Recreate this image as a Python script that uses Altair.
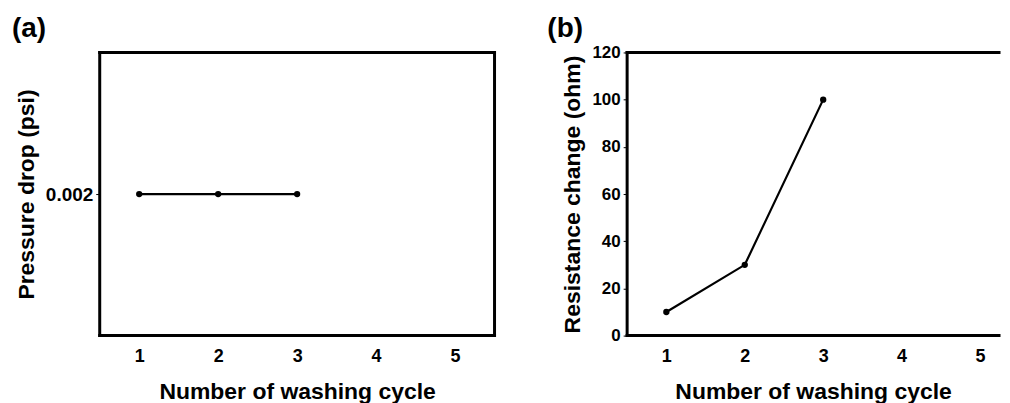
import altair as alt
import pandas as pd

cycles = [1, 2, 3]
pressure_drop = [0.002, 0.002, 0.002]
resistance_change = [10, 30, 100]
x_ticks = [1, 2, 3, 4, 5]

FONT = "Liberation Sans"
H = 284

df_a = pd.DataFrame({"cycle": cycles, "value": pressure_drop})
df_b = pd.DataFrame({"cycle": cycles, "value": resistance_change})
one = pd.DataFrame({"k": [0]})


def panel(df, xmax, width, ydomain, yvalues, yfmt, ylabsize, ytitle, label,
          label_dx, sides):
    base = alt.Chart(df)
    x_axis = alt.Axis(values=x_ticks, ticks=False, domain=False, grid=False,
                      labelFontSize=18, labelFontWeight="bold", labelFont=FONT,
                      labelColor="black", labelPadding=12, labelAngle=0,
                      titleFontSize=23, titleFontWeight="bold", titleFont=FONT,
                      titleColor="black", titlePadding=15)
    x = alt.X("cycle:Q", scale=alt.Scale(domain=[0.5, xmax], nice=False),
              axis=x_axis, title="Number of washing cycle")
    y = alt.Y("value:Q", scale=alt.Scale(domain=ydomain, nice=False, zero=False),
              axis=alt.Axis(values=yvalues, format=yfmt, domain=False, grid=False,
                            tickSize=4, tickWidth=1, tickColor="black",
                            labelFontSize=ylabsize, labelFontWeight="bold",
                            labelFont=FONT, labelColor="black", labelPadding=3,
                            titleFontSize=23, titleFontWeight="bold", titleFont=FONT,
                            titleColor="black", titlePadding=7),
              title=ytitle)
    line = base.mark_line(color="black", strokeWidth=2.2).encode(x=x, y=y)
    pts = base.mark_point(filled=True, color="black", size=40, opacity=1).encode(x=x, y=y)
    lab = alt.Chart(pd.DataFrame({"t": [label]})).mark_text(
        font=FONT, fontSize=28, fontWeight="bold", align="left",
        baseline="alphabetic", color="black"
    ).encode(text="t:N", x=alt.value(label_dx), y=alt.value(-16))
    frame = []
    rule = alt.Chart(one).mark_rule(color="black", strokeWidth=3, strokeCap="square")
    if "top" in sides:
        frame.append(rule.encode(x=alt.value(0), x2=alt.value(width), y=alt.value(0)))
    if "bottom" in sides:
        frame.append(rule.encode(x=alt.value(0), x2=alt.value(width), y=alt.value(H)))
    if "left" in sides:
        frame.append(rule.encode(x=alt.value(0), y=alt.value(0), y2=alt.value(H)))
    if "right" in sides:
        frame.append(rule.encode(x=alt.value(width), y=alt.value(0), y2=alt.value(H)))
    return alt.layer(line, pts, *frame, lab).properties(width=width, height=H)


a = panel(df_a, 5.5, 396, [0.001, 0.003], [0.002], ".3f", 19,
          "Pressure drop (psi)", "(a)", -88, ["top", "bottom", "left", "right"])
b = panel(df_b, 5.242, 373, [0, 120], [0, 20, 40, 60, 80, 100, 120], "d", 17,
          "Resistance change (ohm)", "(b)", -80, ["top", "bottom", "left"])

chart = alt.hconcat(a, b, spacing=50).properties(
    padding={"left": 4, "top": 6, "right": 0, "bottom": 0},
    background="white",
).configure_view(strokeWidth=0)

chart.save("out.html", embed_options={"renderer": "svg", "actions": False})
